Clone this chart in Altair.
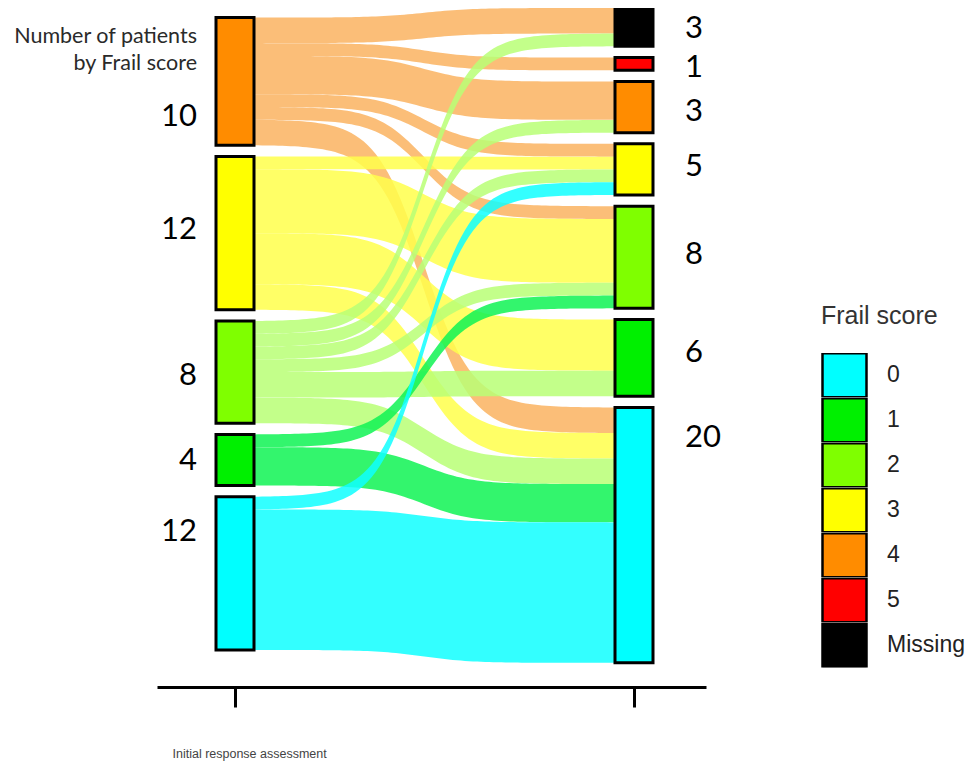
import altair as alt
import pandas as pd
import numpy as np

# ---------------- data ----------------
scores = ["0", "1", "2", "3", "4", "5", "Missing"]
node_colors = ["#00FFFF", "#00F000", "#7FFF00", "#FFFF00", "#FF8C00", "#FF0000", "#000000"]
flow_colors = ["#0FFFFF", "#0FF354", "#B8FF75", "#FFFF4B", "#FAB360", "#FF4040", "#404040"]

left_order = ["4", "3", "2", "1", "0"]
right_order = ["Missing", "5", "4", "3", "2", "1", "0"]
left_labels = ["10", "12", "8", "4", "12"]
right_labels = ["3", "1", "3", "5", "8", "6", "20"]

flow_from = ["4", "4", "4", "4", "4", "4", "3", "3", "3", "3",
             "2", "2", "2", "2", "2", "2", "1", "1", "0", "0"]
flow_to = ["Missing", "5", "4", "3", "2", "0", "3", "2", "1", "0",
           "Missing", "4", "3", "2", "1", "0", "2", "0", "3", "0"]
flow_n = [2, 1, 3, 1, 1, 2, 1, 5, 4, 2,
          1, 1, 1, 1, 2, 2, 1, 3, 1, 11]

# ---------------- layout (derived from the data) ----------------
GAP = 0.88          # gap between nodes, in patients
LEFT_OFFSET = 0.75  # left column starts slightly lower
PX = 12.77          # pixels per patient
VIEW_W, VIEW_H = 549, 679
STAGE0_PX, STAGE_SPAN_PX, NODE_HALF_PX = 78, 399, 19
HW = NODE_HALF_PX / STAGE_SPAN_PX
# label anchor within node (fraction of node height)
left_frac = [0.78, 0.48, 0.54, 0.52, 0.23]
right_frac = [0.56, 0.8, 0.59, 0.46, 0.48, 0.44, 0.12]

flows = list(zip(flow_from, flow_to, flow_n))
left_tot = {s: sum(n for f, t, n in flows if f == s) for s in left_order}
right_tot = {s: sum(n for f, t, n in flows if t == s) for s in right_order}

left_top, y = {}, LEFT_OFFSET
for s in left_order:
    left_top[s] = y
    y += left_tot[s] + GAP
right_top, y = {}, 0.0
for s in right_order:
    right_top[s] = y
    y += right_tot[s] + GAP

node_rows, label_rows = [], []
for i, s in enumerate(left_order):
    node_rows.append(dict(score=s, x0=-HW, x1=HW, y0=left_top[s], y1=left_top[s] + left_tot[s]))
    label_rows.append(dict(stage=0, side="L", text=left_labels[i],
                           y=left_top[s] + left_frac[i] * left_tot[s]))
for i, s in enumerate(right_order):
    node_rows.append(dict(score=s, x0=1 - HW, x1=1 + HW, y0=right_top[s], y1=right_top[s] + right_tot[s]))
    label_rows.append(dict(stage=1, side="R", text=right_labels[i],
                           y=right_top[s] + right_frac[i] * right_tot[s]))
nodes = pd.DataFrame(node_rows)
labels = pd.DataFrame(label_rows)

# stacking of flows at each side
lpos = {}
for s in left_order:
    y = left_top[s]
    for k in sorted([k for k, f in enumerate(flows) if f[0] == s], key=lambda k: right_order.index(flows[k][1])):
        lpos[k] = y
        y += flows[k][2]
rpos = {}
for s in right_order:
    y = right_top[s]
    for k in sorted([k for k, f in enumerate(flows) if f[1] == s], key=lambda k: left_order.index(flows[k][0])):
        rpos[k] = y
        y += flows[k][2]

# steep sigmoid shape for the ribbons
u = np.linspace(0, 1, 90)
K, C = 15.0, 0.47
lg = 1 / (1 + np.exp(-K * (u - C)))
sm = (lg - lg[0]) / (lg[-1] - lg[0])
flow_rows = []
for k, (f, t, n) in enumerate(flows):
    xs = HW + u * (1 - 2 * HW)
    top = lpos[k] + (rpos[k] - lpos[k]) * sm
    for xi, yt in zip(xs, top):
        flow_rows.append(dict(fid=k, src=f, x=xi, yt=yt, yb=yt + n))
flow_df = pd.DataFrame(flow_rows)

# ---------------- scales ----------------
xscale = alt.Scale(domain=[-STAGE0_PX / STAGE_SPAN_PX, (VIEW_W - STAGE0_PX) / STAGE_SPAN_PX], nice=False, zero=False)
yscale = alt.Scale(domain=[0, VIEW_H / PX], reverse=True, nice=False, zero=False)
xaxis = alt.Axis(values=[0, 1], labels=False, tickSize=20, tickWidth=3, tickColor="black",
                 domainColor="black", domainWidth=3, grid=False,
                 title="Initial response assessment", titleAnchor="start", titleAlign="left",
                 titleX=15, titleY=70, titleBaseline="alphabetic", titleFontSize=12.5,
                 titleFontWeight="normal", titleColor="#444", titleFont="Liberation Sans")

flow_layer = alt.Chart(flow_df).mark_area(orient="vertical", opacity=0.85).encode(
    x=alt.X("x:Q", scale=xscale, axis=xaxis),
    y=alt.Y("yt:Q", scale=yscale, axis=None),
    y2="yb:Q",
    color=alt.Color("src:N", scale=alt.Scale(domain=scores, range=flow_colors), legend=None),
    detail="fid:N",
)

node_layer = alt.Chart(nodes).mark_rect(stroke="black", strokeWidth=3).encode(
    x=alt.X("x0:Q", scale=xscale, axis=xaxis),
    x2="x1:Q",
    y=alt.Y("y0:Q", scale=yscale, axis=None),
    y2="y1:Q",
    color=alt.Color("score:N", scale=alt.Scale(domain=scores, range=node_colors),
                    legend=alt.Legend(orient="none", legendX=664, legendY=296, direction="vertical",
                                      title="Frail score", titleFontSize=25, titleFont="Liberation Sans",
                                      titleFontWeight="normal", titleColor="#333", titlePadding=24,
                                      labelFontSize=23, labelFont="Liberation Sans", labelColor="#222",
                                      labelOffset=19, symbolType="square", symbolSize=1936,
                                      symbolStrokeColor="black", symbolStrokeWidth=2.5,
                                      symbolOpacity=1, rowPadding=0, clipHeight=44.4, padding=0)),
)

left_text = alt.Chart(labels[labels.side == "L"]).mark_text(
    align="right", baseline="middle", dx=-38, font="Lato", fontSize=31, color="black"
).encode(x=alt.X("stage:Q", scale=xscale, axis=xaxis), y=alt.Y("y:Q", scale=yscale, axis=None), text="text:N")

right_text = alt.Chart(labels[labels.side == "R"]).mark_text(
    align="left", baseline="middle", dx=51, font="Lato", fontSize=31, color="black"
).encode(x=alt.X("stage:Q", scale=xscale, axis=xaxis), y=alt.Y("y:Q", scale=yscale, axis=None), text="text:N")

title_text = alt.Chart(pd.DataFrame({"a": [0]})).mark_text(
    text=["Number of patients", "by Frail score"], align="right", baseline="alphabetic",
    font="Lato", fontSize=21.5, lineHeight=27, color="#2a2a2a"
).encode(x=alt.value(40), y=alt.value(35))

chart = alt.layer(flow_layer, node_layer, left_text, right_text, title_text).resolve_scale(
    color="independent"
).properties(
    width=VIEW_W, height=VIEW_H,
    autosize=alt.AutoSizeParams(type="none"),
    padding={"left": 149, "top": 0, "right": 260, "bottom": 76},
).configure_view(stroke=None)

chart.save("out.html", embed_options={"renderer": "svg", "actions": False})
